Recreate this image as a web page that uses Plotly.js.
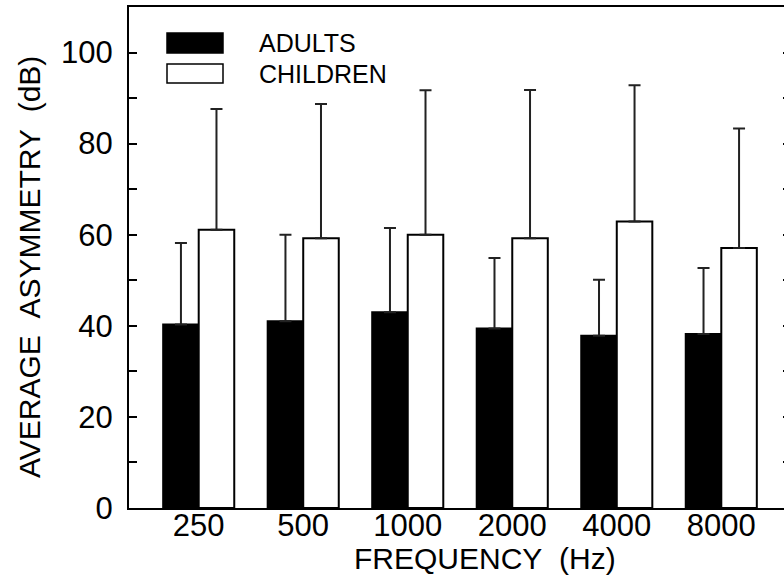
<!DOCTYPE html>
<html>
<head>
<meta charset="utf-8">
<script src="https://cdn.plot.ly/plotly-3.0.1.min.js"></script>
<style>
html, body { margin: 0; padding: 0; overflow: hidden; background: #fff; }
#chart { width: 800px; height: 582px; }
</style>
</head>
<body>
<div id="chart"></div>
<script>
// Data
const frequencies = ['250', '500', '1000', '2000', '4000', '8000'];
const adultsMean = [40.3, 41.0, 43.0, 39.4, 37.8, 38.2];
const adultsSD = [17.9, 19.0, 18.5, 15.5, 12.3, 14.5];
const childrenMean = [61.1, 59.2, 60.0, 59.2, 62.9, 57.1];
const childrenSD = [26.5, 29.5, 31.7, 32.6, 29.9, 26.2];
const seriesNames = ['ADULTS', 'CHILDREN'];
const yTickVals = [0, 20, 40, 60, 80, 100];

// Layout geometry (pixels)
const W = 800, H = 582;
const M = { l: 129, r: 9, t: 7, b: 74 };
const PW = W - M.l - M.r, PH = H - M.t - M.b;
const px = x => (x - M.l) / PW;
const py = y => (H - M.b - y) / PH;

const FONT = '"Liberation Sans", Arial, sans-serif';
const zeros = adultsMean.map(() => 0);

const adults = {
  type: 'bar', name: seriesNames[0], x: frequencies, y: adultsMean,
  marker: { color: '#000', line: { color: '#000', width: 2 } },
  error_y: { type: 'data', symmetric: false, array: adultsSD, arrayminus: zeros,
             color: '#222', thickness: 2, width: 6 },
  showlegend: false
};
const children = {
  type: 'bar', name: seriesNames[1], x: frequencies, y: childrenMean,
  marker: { color: '#fff', line: { color: '#000', width: 2 } },
  error_y: { type: 'data', symmetric: false, array: childrenSD, arrayminus: zeros,
             color: '#222', thickness: 2, width: 6 },
  showlegend: false
};

const layout = {
  width: W, height: H,
  margin: M,
  paper_bgcolor: '#fff', plot_bgcolor: '#fff',
  barmode: 'group', bargap: 0.32, bargroupgap: 0,
  font: { family: FONT, color: '#000' },
  xaxis: {
    type: 'category', range: [-0.667, 5.667],
    showline: true, linecolor: '#000', linewidth: 2, mirror: true,
    ticks: '', showgrid: false, zeroline: false,
    ticklabelstandoff: -11,
    tickfont: { size: 31, family: FONT, color: '#000' },
    fixedrange: true
  },
  yaxis: {
    range: [0, 110], tickvals: yTickVals,
    showline: true, linecolor: '#000', linewidth: 2, mirror: 'allticks',
    ticks: 'inside', ticklen: 8, tickwidth: 2, tickcolor: '#000',
    minor: { dtick: 10, tick0: 0, ticks: 'inside', ticklen: 8, tickwidth: 2, tickcolor: '#000', showgrid: false },
    showgrid: false, zeroline: false,
    ticklabelstandoff: 8,
    tickfont: { size: 31, family: FONT, color: '#000' },
    fixedrange: true
  },
  shapes: [
    { type: 'rect', xref: 'paper', yref: 'paper', x0: px(167), x1: px(223), y0: py(53), y1: py(33),
      fillcolor: '#000', line: { color: '#000', width: 1.5 } },
    { type: 'rect', xref: 'paper', yref: 'paper', x0: px(167), x1: px(223), y0: py(83), y1: py(64),
      fillcolor: '#fff', line: { color: '#000', width: 1.5 } }
  ],
  annotations: [
    { xref: 'paper', yref: 'paper', x: px(257), y: py(43), xanchor: 'left', yanchor: 'middle',
      text: seriesNames[0], showarrow: false, font: { size: 25, family: FONT, color: '#000' } },
    { xref: 'paper', yref: 'paper', x: px(257), y: py(74), xanchor: 'left', yanchor: 'middle',
      text: seriesNames[1], showarrow: false, font: { size: 25, family: FONT, color: '#000' } },
    { xref: 'paper', yref: 'paper', x: px(485), y: py(558), xanchor: 'center', yanchor: 'middle',
      text: 'FREQUENCY\u00a0\u00a0(Hz)', showarrow: false, font: { size: 30, family: FONT, color: '#000' } },
    { xref: 'paper', yref: 'paper', x: px(29), y: py(267), xanchor: 'center', yanchor: 'middle',
      textangle: -90,
      text: 'AVERAGE\u00a0\u00a0ASYMMETRY\u00a0\u00a0(dB)', showarrow: false, font: { size: 30, family: FONT, color: '#000' } }
  ]
};

Plotly.newPlot('chart', [adults, children], layout, { staticPlot: true, displayModeBar: false });
</script>
</body>
</html>
